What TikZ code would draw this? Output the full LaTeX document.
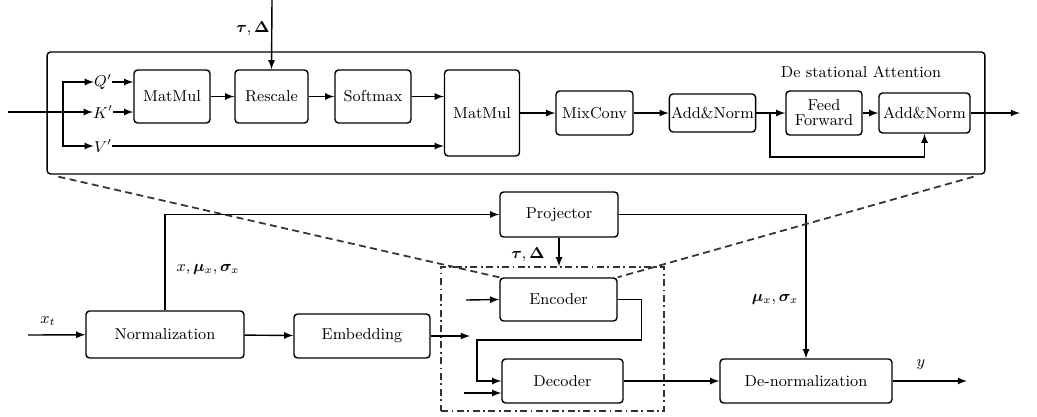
\documentclass[tikz,border=0pt]{standalone}
\usepackage{tikz}
\usepackage{amsmath}
\usepackage{amssymb}
\usepackage{bm}
\usetikzlibrary{arrows}
\tikzset{
  blk/.style = {align=center, inner sep=1pt, text centered,
    draw=black, line width=0.8pt, rounded corners=2pt},
  blk_a/.style = {blk, minimum width=1.52cm, minimum height=1.06cm},% bloc attention
  blk_b/.style = {blk, minimum height=0.88cm},% bloc du bas
  frame_d/.style = {draw=black!80, line width=0.8pt, dash pattern=on 4pt off 2pt on 1pt off 2pt},
  link/.style = {line width=0.8pt, -latex},
  wire/.style = {line width=0.8pt},
  zoomline/.style = {draw=black!80, line width=1pt, dash pattern=on 4pt off 2.5pt},
  lab/.style = {inner sep=0pt}
}

\begin{document}
\begin{tikzpicture} [x = 0.02cm, y = -0.02cm, font = \fontsize{9}{10.5}\selectfont]
		\useasboundingbox (0,0) rectangle (1037,416);
		% attention
		\node [blk, minimum width=18.76cm, minimum height=2.44cm] (att) at (516,113) {};
		\node [lab] (attlab) at (861,72) {De stational Attention};
		\node [blk_a] (mm1) at (172,96.5) {MatMul};
		\node [blk_a, minimum width=1.46cm] (resc) at (271.5,96.5) {Rescale};
		\node [blk_a] (soft) at (373,96.5) {Softmax};
		\node [blk_a, minimum width=1.5cm, minimum height=1.72cm] (mm2) at (482,113) {MatMul};
		\node [blk, minimum width=1.54cm, minimum height=0.88cm] (mix) at (594.5,113) {MixConv};
		\node [blk, minimum width=1.66cm, minimum height=0.76cm] (an1) at (712.5,113) {Add\&Norm};
		\node [blk, minimum width=1.52cm, minimum height=0.88cm] (ff) at (824,113) {Feed\\[-2pt]Forward};
		\node [blk, minimum width=1.82cm, minimum height=0.8cm] (an2) at (924.5,113) {Add\&Norm};
		\node [lab] (ql) at (103,82) {$Q'$};
		\node [lab] (kl) at (103,112) {$K'$};
		\node [lab] (vl) at (103,146) {$V'$};
		\node [lab] (tau1) at (253,29) {$\bm{\tau},\bm{\Delta}$};
		\coordinate (in) at (8,112);
		\coordinate (jn) at (63,112);
		\coordinate (tin) at (272,0);
		\coordinate (sk) at (770,113);
		\coordinate (out) at (1020,113);
		\draw [wire] (in) -- (jn);
		\draw [link] (jn) -- (kl.west);
		\draw [link] (jn) |- (ql.west);
		\draw [link] (jn) |- (vl.west);
		\draw [link] (ql.east) -- (ql.east -| mm1.west);
		\draw [link] (kl.east) -- (kl.east -| mm1.west);
		\draw [link] (vl.east) -- (vl.east -| mm2.west);
		\draw [link] (tin) -- (resc.north);
		\draw [link] (mm1) -- (resc);
		\draw [link] (resc) -- (soft);
		\draw [link] (soft.east) -- (soft.east -| mm2.west);
		\draw [link] (mm2) -- (mix);
		\draw [link] (mix) -- (an1);
		\draw [link] (an1) -- (ff);
		\draw [link] (ff) -- (an2);
		\draw [link] (an2) -- (out);
		\draw [link] (sk) -- ++(0,44) -| (an2.south);
		% modele
		\node [blk_b, minimum width=3.16cm, minimum height=0.94cm] (norm) at (165,334.5) {Normalization};
		\node [blk_b, minimum width=2.72cm] (emb) at (362,336) {Embedding};
		\node [blk_b, minimum width=2.36cm, minimum height=0.9cm] (proj) at (559,214.5) {Projector};
		\node [frame_d, minimum width=4.46cm, minimum height=2.88cm] (edbox) at (552.5,339) {};
		\node [blk_b, minimum width=2.34cm, minimum height=0.86cm] (enc) at (558.5,299.5) {Encoder};
		\node [blk_b, minimum width=2.42cm] (dec) at (562.5,381) {Decoder};
		\node [blk_b, minimum width=3.44cm] (denorm) at (806,381) {De-normalization};
		\node [lab] (xtl) at (48,321) {$x_t$};
		\node [lab] (xml) at (208,270) {$x,\bm{\mu}_x,\bm{\sigma}_x$};
		\node [lab] (tau2) at (528,255) {$\bm{\tau},\bm{\Delta}$};
		\node [lab] (msl) at (775,300) {$\bm{\mu}_x,\bm{\sigma}_x$};
		\node [lab] (yl) at (921,365) {$y$};
		\coordinate (xin) at (28,335);
		\coordinate (embout) at (470,336);
		\coordinate (ein) at (466,300);
		\coordinate (din) at (464,393);
		\coordinate (lp) at (477,340);
		\coordinate (yout) at (967,381);
		\draw [link] (xin) -- (norm);
		\draw [link] (norm) -- (emb);
		\draw [link] (emb.east) -- (embout);
		\draw [link] (norm.north) |- (proj.west);
		\draw [link] (proj.south) -- (proj.south |- edbox.north);
		\draw [link] (proj.east) -| (denorm.north);
		\draw [link] (ein) -- (enc.west);
		\draw [link] (enc.east) -- ++(24,0) |- (lp) |- (dec.west);
		\draw [link] (din) -- (din -| dec.west);
		\draw [link] (dec) -- (denorm);
		\draw [link] (denorm) -- (yout);
		% zoom
		\draw [zoomline] (att.south west) ++(12,2) -- (enc.north west);
		\draw [zoomline] (att.south east) ++(-12,2) -- (enc.north east);
	\end{tikzpicture}
\end{document}
